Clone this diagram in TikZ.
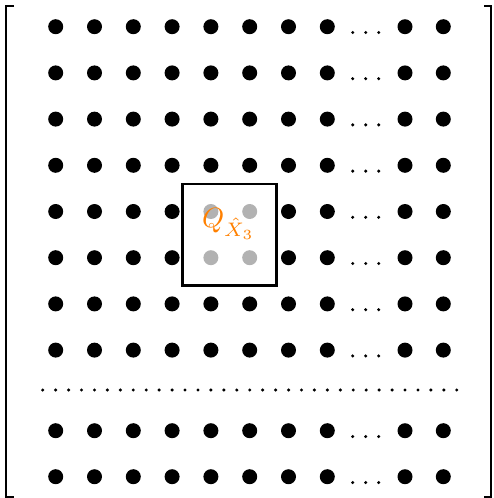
\documentclass[tikz,border=0pt]{standalone}
\begin{document}
\begin{tikzpicture}[x=1pt,y=-1pt,
  bigdot/.style={fill=black},
  greydot/.style={fill=black!30},
  smalldot/.style={fill=black},
  brk/.style={line width=1.4pt},
  qbox/.style={line width=2.5pt},
  lbl/.style={text=orange,inner sep=0pt}]
\useasboundingbox (0,0) rectangle (493,498);
% brackets
\draw[brk] (14,6) -- (6,6) -- (6,497) -- (14,497);
\draw[brk] (484,6) -- (491,6) -- (491,497) -- (484,497);
% grid of dots
\foreach \r/\y in {0/26.7,1/72.9,2/119.1,3/165.3,4/211.5,5/257.7,6/303.9,7/350.1,8/430.7,9/476.7}{
  \foreach \c/\x in {0/55.7,1/94.5,2/133.3,3/172.1,4/210.9,5/249.7,6/288.5,7/327.3,8/405,9/443.3}{
    \pgfmathtruncatemacro{\isg}{(\r==4 || \r==5) && (\c==4 || \c==5) ? 1 : 0}
    \ifnum\isg=1
      \fill[greydot] (\x,\y) circle (7.5);
    \else
      \fill[bigdot] (\x,\y) circle (7.5);
    \fi
  }
  \foreach \x in {352.7,365.7,378.7}{
    \fill[smalldot] (\x,\y+5.8) circle (1.7);
  }
}
% dotted row
\foreach \i in {0,...,32}{
  \fill[smalldot] (42.7+12.94*\i,390) circle (1.7);
}
% box
\draw[qbox] (182.7,184) rectangle (276.7,285.5);
\node[lbl] (q) at (228.5,224) {\scalebox{2.8}{$Q_{\hat{X}_3}$}};
\end{tikzpicture}
\end{document}
